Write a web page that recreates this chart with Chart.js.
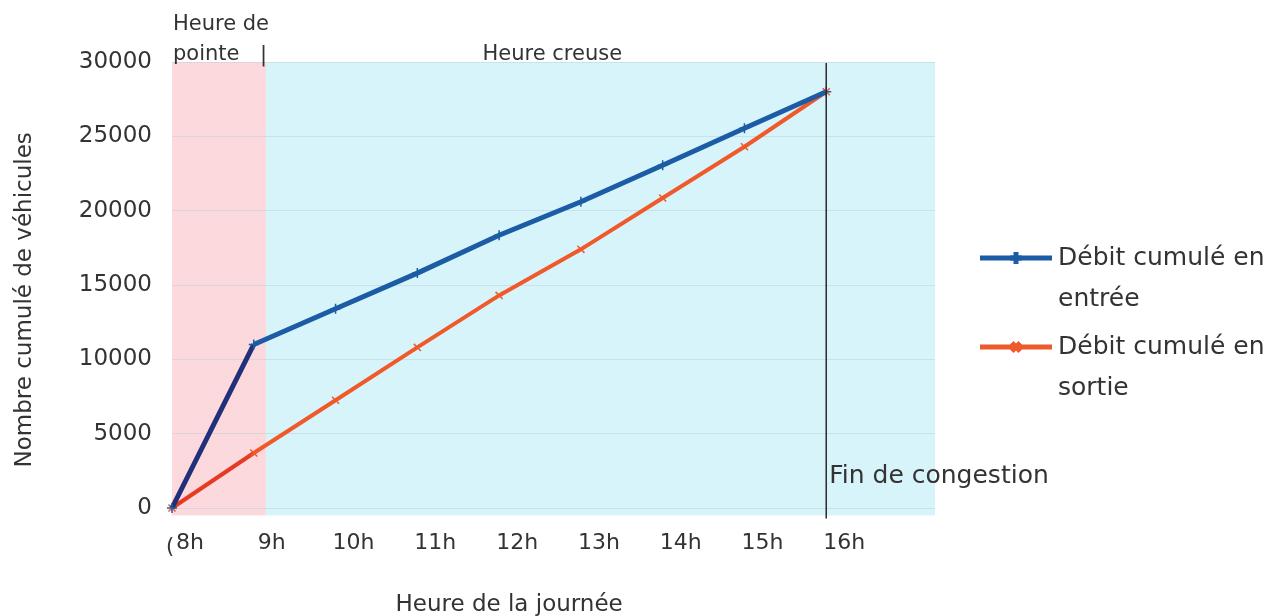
<!DOCTYPE html>
<html>
<head>
<meta charset="utf-8">
<script src="https://cdn.jsdelivr.net/npm/chart.js@4"></script>
<style>
  html, body { margin: 0; padding: 0; background: #fff; }
</style>
</head>
<body>
<canvas id="myChart" width="1267" height="616"></canvas>
<script>
// données
const hours = [8, 9, 10, 11, 12, 13, 14, 15, 16];
const hourLabels = ['8h', '9h', '10h', '11h', '12h', '13h', '14h', '15h', '16h'];
const debitEntree = [0, 11000, 13400, 15800, 18350, 20600, 23050, 25550, 28000];
const debitSortie = [0, 3700, 7250, 10800, 14300, 17400, 20850, 24300, 28000];
const legendEntree = ['Débit cumulé en', 'entrée'];
const legendSortie = ['Débit cumulé en', 'sortie'];
const heurePointe = [8, 9.15];
const heureCreuse = [9.15, 17.33];
const finCongestion = 16;

const FONT = 'DejaVu Sans';
const TXT = '#333';
const BLUE = '#1b5ca4';
const NAVY = '#22307a';
const ORANGE = '#f05a2a';
const RED = '#e63a22';

const decor = {
  id: 'decor',
  beforeDraw(chart) {
    const { ctx, scales: { x, y } } = chart;
    const top = y.getPixelForValue(30000);
    const bot = y.getPixelForValue(-500);
    ctx.save();
    ctx.fillStyle = '#fcd9dc';
    ctx.fillRect(x.getPixelForValue(heurePointe[0]), top, x.getPixelForValue(heurePointe[1]) - x.getPixelForValue(heurePointe[0]), bot - top);
    ctx.fillStyle = '#d7f4fa';
    ctx.fillRect(x.getPixelForValue(heureCreuse[0]), top, x.getPixelForValue(heureCreuse[1]) - x.getPixelForValue(heureCreuse[0]), bot - top);
    ctx.restore();
  },
  afterDatasetsDraw(chart) {
    const { ctx, chartArea, scales: { x, y } } = chart;
    ctx.save();
    // ligne fin de congestion
    const xf = x.getPixelForValue(finCongestion);
    ctx.strokeStyle = '#2a2a2a';
    ctx.lineWidth = 1.5;
    ctx.beginPath();
    ctx.moveTo(xf, y.getPixelForValue(30000) + 1);
    ctx.lineTo(xf, y.getPixelForValue(-700));
    ctx.stroke();

    ctx.fillStyle = TXT;
    ctx.textBaseline = 'middle';
    ctx.font = '25px "' + FONT + '"';
    ctx.textAlign = 'left';
    ctx.fillText('Fin de congestion', xf + 3, y.getPixelForValue(2150));

    // zones
    ctx.font = '21px "' + FONT + '"';
    const xp = x.getPixelForValue(heurePointe[0]);
    ctx.fillText('Heure de', xp + 1, chartArea.top - 37);
    ctx.fillText('pointe', xp + 1, chartArea.top - 7);
    ctx.fillText('|', x.getPixelForValue(heurePointe[1]) - 6, chartArea.top - 6);
    ctx.textAlign = 'center';
    ctx.fillText('Heure creuse', x.getPixelForValue(12.65), chartArea.top - 7);
    ctx.fillText('(', xp - 2, chartArea.bottom + 40);

    // titres des axes
    ctx.font = '23px "' + FONT + '"';
    ctx.fillText('Heure de la journée', (chartArea.left + xf) / 2 + 10, 605);
    ctx.save();
    ctx.translate(25, y.getPixelForValue(14000));
    ctx.rotate(-Math.PI / 2);
    ctx.fillText('Nombre cumulé de véhicules', 0, 0);
    ctx.restore();

    // légende
    const lx = chartArea.right + 45;
    const items = [
      { text: legendEntree, color: BLUE, style: 'cross', y: 258 },
      { text: legendSortie, color: ORANGE, style: 'crossRot', y: 347 }
    ];
    ctx.font = '25px "' + FONT + '"';
    ctx.textAlign = 'left';
    items.forEach(it => {
      ctx.strokeStyle = it.color;
      ctx.lineWidth = 5;
      ctx.beginPath();
      ctx.moveTo(lx, it.y);
      ctx.lineTo(lx + 72, it.y);
      ctx.stroke();
      Chart.helpers.drawPoint(ctx, { pointStyle: it.style, radius: 6, borderWidth: 1.5 }, lx + 36, it.y);
      ctx.fillStyle = TXT;
      it.text.forEach((t, i) => ctx.fillText(t, lx + 78, it.y + i * 41));
    });
    ctx.restore();
  }
};

const ctx = document.getElementById('myChart').getContext('2d');
const myChart = new Chart(ctx, {
  type: 'line',
  data: {
    datasets: [
      {
        label: legendEntree.join(' '),
        data: hours.map((h, i) => ({ x: h, y: debitEntree[i] })),
        borderColor: BLUE,
        borderWidth: 5,
        pointStyle: 'cross',
        pointRadius: 5,
        pointBorderColor: BLUE,
        pointBorderWidth: 1.5,
        segment: { borderColor: c => c.p0DataIndex === 0 ? NAVY : undefined },
        clip: 8
      },
      {
        label: legendSortie.join(' '),
        data: hours.map((h, i) => ({ x: h, y: debitSortie[i] })),
        borderColor: ORANGE,
        borderWidth: 4,
        pointStyle: 'crossRot',
        pointRadius: 5,
        pointBorderColor: ORANGE,
        pointBorderWidth: 1.5,
        segment: { borderColor: c => c.p0DataIndex === 0 ? RED : undefined },
        clip: 8
      }
    ]
  },
  options: {
    responsive: false,
    animation: false,
    events: [],
    layout: { padding: { top: 62, right: 332, bottom: 0, left: 0 } },
    plugins: {
      legend: { display: false },
      tooltip: { enabled: false }
    },
    scales: {
      x: {
        type: 'linear',
        min: 8,
        max: heureCreuse[1],
        afterBuildTicks: s => { s.ticks = hours.map(v => ({ value: v })); },
        afterFit: s => { s.height = 108; },
        grid: { display: false },
        border: { display: false },
        ticks: {
          callback: v => hourLabels[hours.indexOf(v)],
          font: { family: FONT, size: 22 },
          color: TXT,
          padding: 14,
          labelOffset: 18,
          autoSkip: false,
          maxRotation: 0
        }
      },
      y: {
        min: 0,
        max: 30000,
        afterFit: s => { s.width = 172; },
        grid: { color: 'rgba(185,205,215,0.45)', drawTicks: false },
        border: { display: false },
        ticks: {
          stepSize: 5000,
          callback: v => String(v),
          font: { family: FONT, size: 23 },
          color: TXT,
          padding: 20
        }
      }
    }
  },
  plugins: [decor]
});
</script>
</body>
</html>
